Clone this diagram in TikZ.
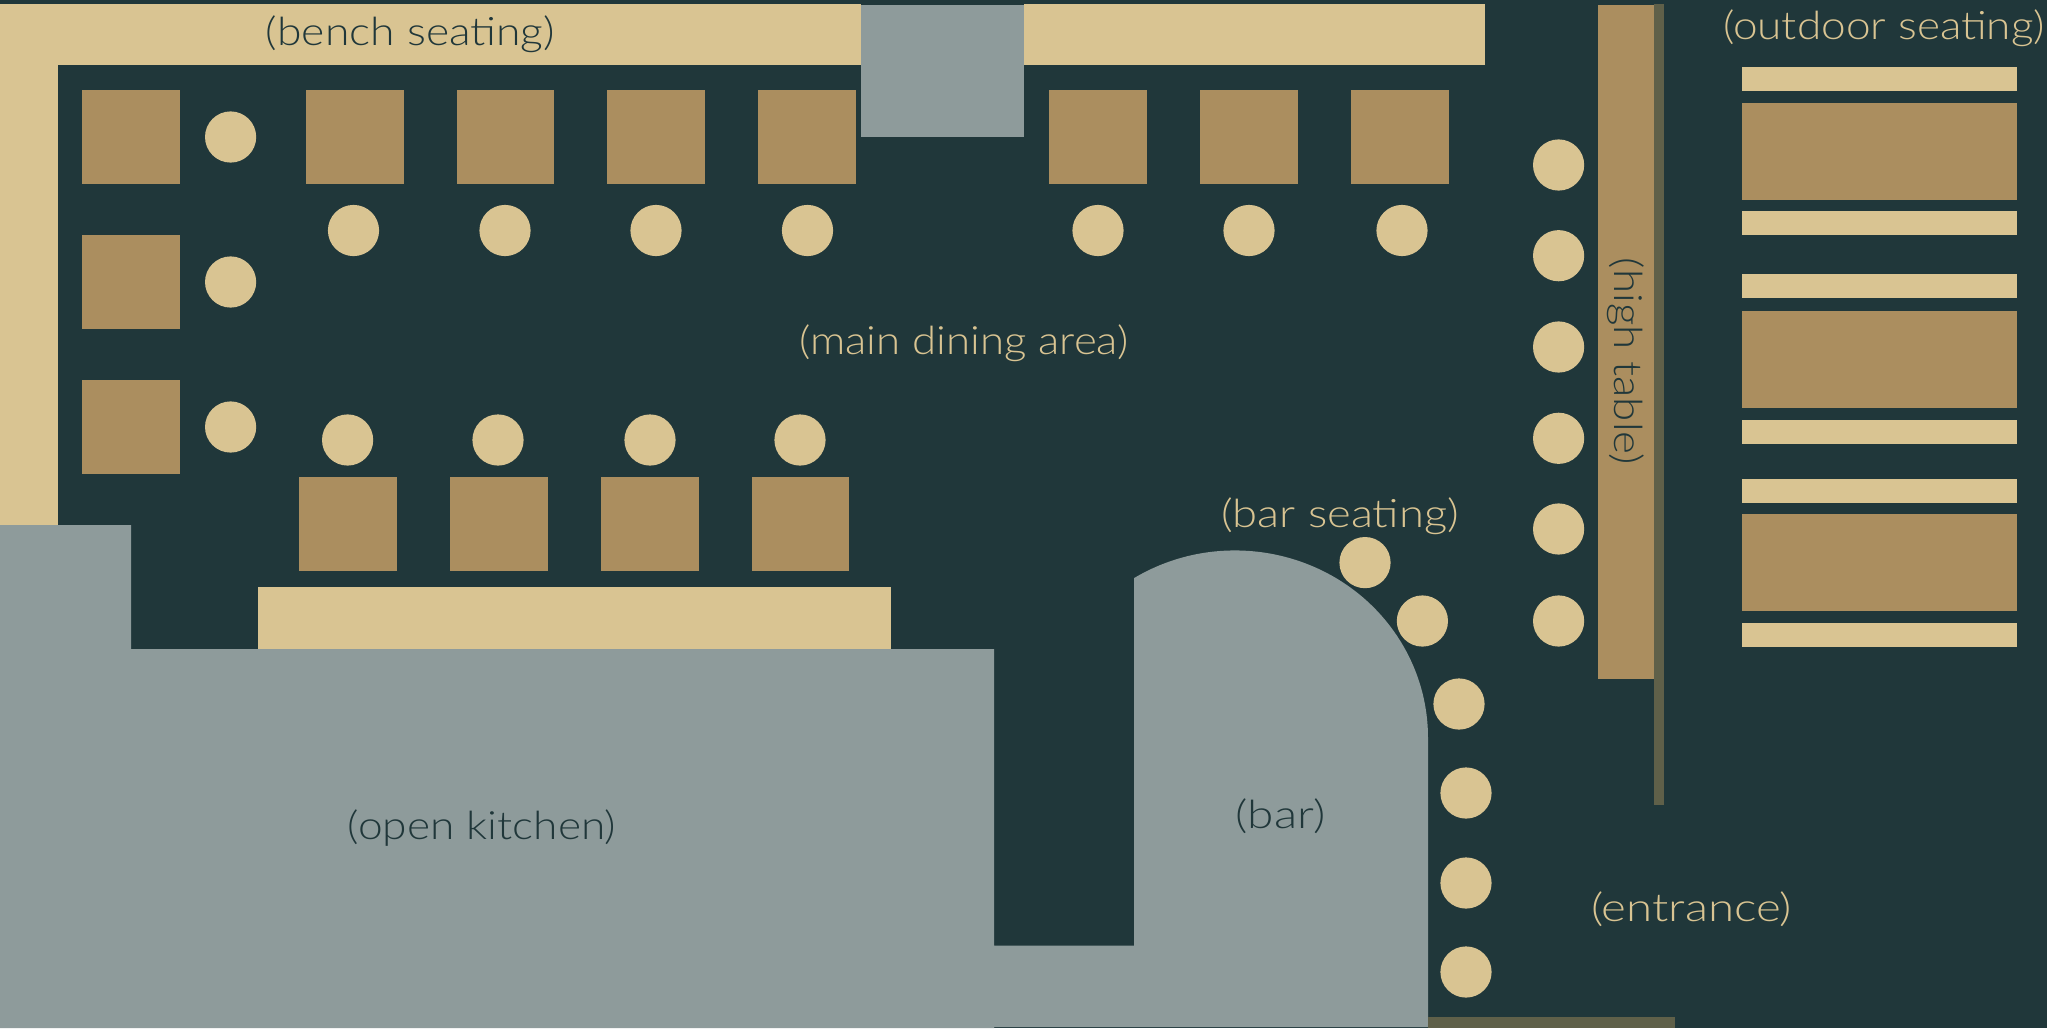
\documentclass[tikz,border=0pt]{standalone}
\usepackage{fontspec}
\usepackage{graphicx}
\newfontfamily\lblfont{Lato Light}
\definecolor{floorc}{HTML}{20373A}
\definecolor{benchc}{HTML}{D9C492}
\definecolor{tablec}{HTML}{AB8E5F}
\definecolor{zonec}{HTML}{8E9B9B}
\definecolor{wallc}{HTML}{5F6049}
\tikzset{
  bench/.style={fill=benchc},
  tabletop/.style={fill=tablec},
  zone/.style={fill=zonec},
  wallbar/.style={fill=wallc},
  stool/.style={fill=benchc},
  lbl/.style={inner sep=0pt,outer sep=0pt,anchor=base,font=\lblfont\fontsize{39}{42}\selectfont},
  lightlbl/.style={lbl,text=benchc},
  darklbl/.style={lbl,text=floorc}
}
\newcommand{\fitw}[2]{\resizebox{#1pt}{\height}{#2}}
\begin{document}
\begin{tikzpicture}[x=1pt,y=-1pt]
\useasboundingbox (0,0) rectangle (2047,1028);
\fill[floorc] (0,0) rectangle (2047,1028);
% benches
\fill[bench] (0,4) rectangle (861,65);
\fill[bench] (0,4) rectangle (58,526);
\fill[bench] (1024,4) rectangle (1485,65);
\fill[bench] (258,587) rectangle (891,649);
% zones
\fill[zone] (861,5) rectangle (1024,137);
\fill[zone] (0,525) -- (131,525) -- (131,649) -- (994,649) -- (994,945.5) -- (1134,945.5) -- (1134,1027) -- (994,1027) -- (994,1028) -- (0,1028) -- cycle;
\fill[zone] (1134,1027) -- (1134,578.1) arc[start angle=121.55,end angle=0,x radius=193pt,y radius=187pt] -- (1428,1027) -- cycle;
% walls
\fill[wallbar] (1654,4) rectangle (1664,805);
\fill[wallbar] (1428,1017) rectangle (1675,1028);
% tables
\foreach \a/\b/\c/\d in {82/90/180/184,306/90/404/184,457/90/554/184,607/90/705/184,758/90/856/184,
  1049/90/1147/184,1200/90/1298/184,1351/90/1449/184,
  82/235/180/329,82/380/180/474,
  299/477/397/571,450/477/548/571,601/477/699/571,752/477/849/571,
  1742/103/2017/200,1742/311/2017/408,1742/514/2017/611,
  1598/5/1654/679}
  {\fill[tabletop] (\a,\b) rectangle (\c,\d);}
% outdoor benches
\foreach \b/\d in {67/91,211/235,274/298,420/444,479/503,623/647}
  {\fill[bench] (1742,\b) rectangle (2017,\d);}
% stools
\foreach \x/\y in {230.6/137,230.6/282,230.6/427,
  353.5/230.5,505/230.5,656/230.5,807.5/230.5,1098/230.5,1249/230.5,1402/230.5,
  347.6/440,498/440,650/440,800/440,
  1558.6/165,1558.6/255.7,1558.6/347,1558.6/438.3,1558.6/529,1558.6/621,
  1365/562.6,1422.4/621,1459/704,1466/793,1466/883,1466/972}
  {\fill[stool] (\x,\y) circle[radius=25.6pt];}
% labels
\node[darklbl] (lblbench) at (410.5,45) {\fitw{289}{(bench seating)}};
\node[lightlbl] (lblmain) at (964,354) {\fitw{329}{(main dining area)}};
\node[lightlbl] (lbloutdoor) at (1884,39) {\fitw{322}{(outdoor seating)}};
\node[lightlbl] (lblbarseat) at (1340,527.6) {\fitw{238}{(bar seating)}};
\node[darklbl] (lblbar) at (1280.6,828) {\fitw{90}{(bar)}};
\node[lightlbl] (lblentrance) at (1691.5,921) {\fitw{201}{(entrance)}};
\node[darklbl] (lblkitchen) at (482,839) {\fitw{268}{(open kitchen)}};
\node[darklbl,rotate=-90] (lblhigh) at (1614,361.5) {\fitw{207}{(high table)}};
\end{tikzpicture}
\end{document}
